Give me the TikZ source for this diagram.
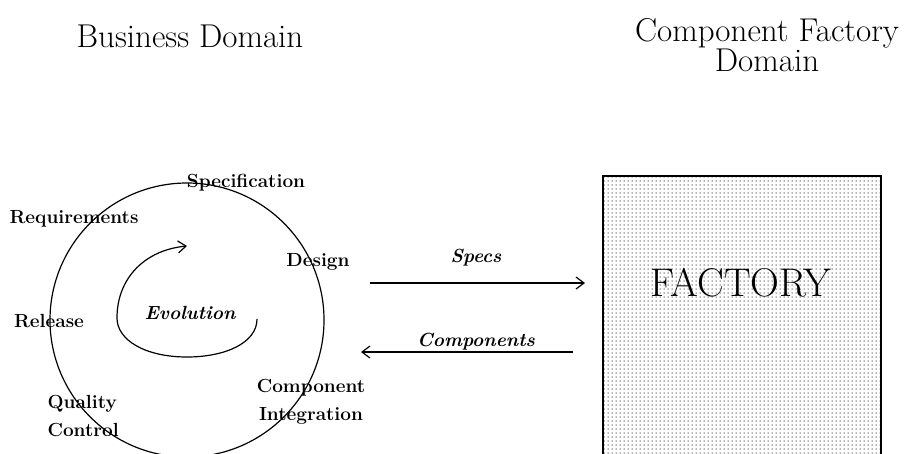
\documentclass[tikz,border=0pt]{standalone}
\usetikzlibrary{arrows.meta,patterns.meta}

\tikzdeclarepattern{name=facdots, type=uncolored,
  bottom left={(-1pt,-1pt)}, top right={(3pt,3pt)}, tile size={(4pt,4pt)},
  code={\fill (0pt,0pt) circle[radius=0.75pt];}}

\tikzset{
  lbl/.style={font=\fontsize{19}{28}\selectfont\bfseries, inner sep=1pt},
  flow/.style={font=\fontsize{19}{22}\selectfont\bfseries\itshape, inner sep=1pt},
  title/.style={font=\fontsize{33}{25}\selectfont, align=center},
  tip/.style={-{Straight Barb[length=8pt,width=12pt,line width=1.2pt]}}
}

\begin{document}
\begin{tikzpicture}[x=1pt,y=-1pt,line width=1.2pt]
  \path[use as bounding box,clip] (0,0) rectangle (905,453);

  % titles
  \node[title] (busdom) at (190,36) {Business Domain};
  \node[title] (facdom) at (767,45) {Component Factory\\Domain};

  % business cycle
  \draw (187,320) circle[radius=137];
  \node[lbl] (spec) at (246,183) {Specification};
  \node[lbl] (req) at (74,219) {Requirements};
  \node[lbl] (design) at (318,262) {Design};
  \node[lbl] (release) at (49,321) {Release};
  \node[lbl,align=center] (integ) at (311,402) {Component\\Integration};
  \node[lbl,align=left,anchor=west] (qc) at (46,416) {Quality\\Control};
  \node[flow] (evol) at (190,313) {Evolution};
  \draw[tip] (257,319) .. controls (257,343) and (225,357) .. (187,357)
    .. controls (145,357) and (117,340) .. (117,318)
    .. controls (117,278) and (145,250) .. (187,246);

  % factory
  \draw[pattern={facdots},pattern color=black!60] (603,176) rectangle (881,470);
  \node[font=\fontsize{40}{44}\selectfont] (factory) at (741,283) {FACTORY};

  % flows
  \coordinate (specout) at (370,283);
  \coordinate (specin) at (585,283);
  \coordinate (compout) at (573,352);
  \coordinate (compin) at (361,352);
  \node[flow] (specs) at (476,258) {Specs};
  \node[flow] (comps) at (476,342) {Components};
  \draw[tip] (specout) -- (specin);
  \draw[tip] (compout) -- (compin);
\end{tikzpicture}
\end{document}
